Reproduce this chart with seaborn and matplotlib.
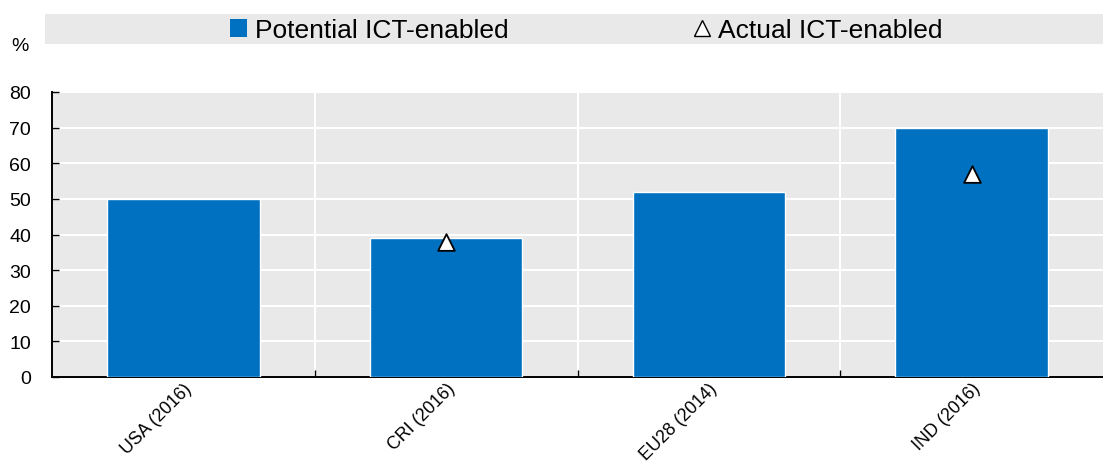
import matplotlib as mpl
import matplotlib.pyplot as plt
import numpy as np
import pandas as pd
import seaborn as sns
from matplotlib.lines import Line2D
from matplotlib.patches import Patch, Rectangle
from matplotlib.ticker import FixedLocator

# Datos
categorias = ["USA (2016)", "CRI (2016)", "EU28 (2014)", "IND (2016)"]
potencial = [50, 39, 52, 70]
actual = [np.nan, 38, np.nan, 57]
y_ticks = [0, 10, 20, 30, 40, 50, 60, 70, 80]

AZUL = "#0070C0"
GRIS = "#E9E9E9"

sns.set_theme(style="white")
mpl.rcParams.update({
    "font.family": ["Liberation Sans", "DejaVu Sans"],
    "text.color": "black",
    "xtick.color": "black",
    "ytick.color": "black",
})

df = pd.DataFrame({"pais": categorias, "potencial": potencial, "actual": actual})

fig = plt.figure(figsize=(11.03, 4.64), dpi=100)
ax = fig.add_axes([52 / 1103, 1 - 378 / 464, 1 - 52 / 1103, (378 - 93) / 464])
ax.set_facecolor(GRIS)

sns.barplot(data=df, x="pais", y="potencial", color=AZUL, width=0.58,
            saturation=1, ax=ax, zorder=3)
sns.stripplot(data=df, x="pais", y="actual", jitter=False, marker="^", size=12,
              color="white", edgecolor="black", linewidth=1.3, ax=ax, zorder=4)

ax.set_ylim(0, 80)
ax.set_xlim(-0.5, len(categorias) - 0.5)
ax.set_yticks(y_ticks)
ax.set_xlabel("")
ax.set_ylabel("")

# Rejilla blanca: horizontales en ticks Y, verticales entre categorías
ax.xaxis.set_minor_locator(FixedLocator([i + 0.5 for i in range(len(categorias) - 1)]))
ax.grid(True, axis="y", which="major", color="white", linewidth=1.5, zorder=1)
ax.grid(True, axis="x", which="minor", color="white", linewidth=1.5, zorder=1)
ax.set_axisbelow(True)

for lado in ["top", "right"]:
    ax.spines[lado].set_visible(False)
for lado in ["left", "bottom"]:
    ax.spines[lado].set_color("black")
    ax.spines[lado].set_linewidth(1.4)

ax.tick_params(axis="y", direction="in", length=5, width=1,
               labelsize=14, pad=15, left=True)
ax.tick_params(axis="x", which="major", length=0, labelsize=12.8, pad=2)
ax.tick_params(axis="x", which="minor", direction="in", length=5, width=1,
               bottom=True)
plt.setp(ax.get_xticklabels(), rotation=45, ha="right", rotation_mode="anchor")

fig.text(20 / 1103, 1 - 47 / 464, "%", fontsize=14, ha="center", va="center")

# Banda de la leyenda
fig.patches.append(Rectangle((45 / 1103, 1 - 45 / 464), 1 - 45 / 1103, 30 / 464,
                             transform=fig.transFigure, facecolor=GRIS,
                             edgecolor="none", zorder=0))
handles = [
    Patch(facecolor=AZUL, edgecolor="none", label="Potential ICT-enabled"),
    Line2D([], [], marker="^", linestyle="none", markersize=12,
           markerfacecolor="white", markeredgecolor="black",
           markeredgewidth=1, label="Actual ICT-enabled"),
]
fig.legend(handles=handles, loc="center", bbox_to_anchor=(586 / 1103, 1 - 31 / 464),
           ncol=2, frameon=False, fontsize=19, handlelength=0.65, handleheight=0.65,
           handletextpad=0.3, columnspacing=7.0)

fig.savefig("out.png", dpi=100, facecolor="white")
